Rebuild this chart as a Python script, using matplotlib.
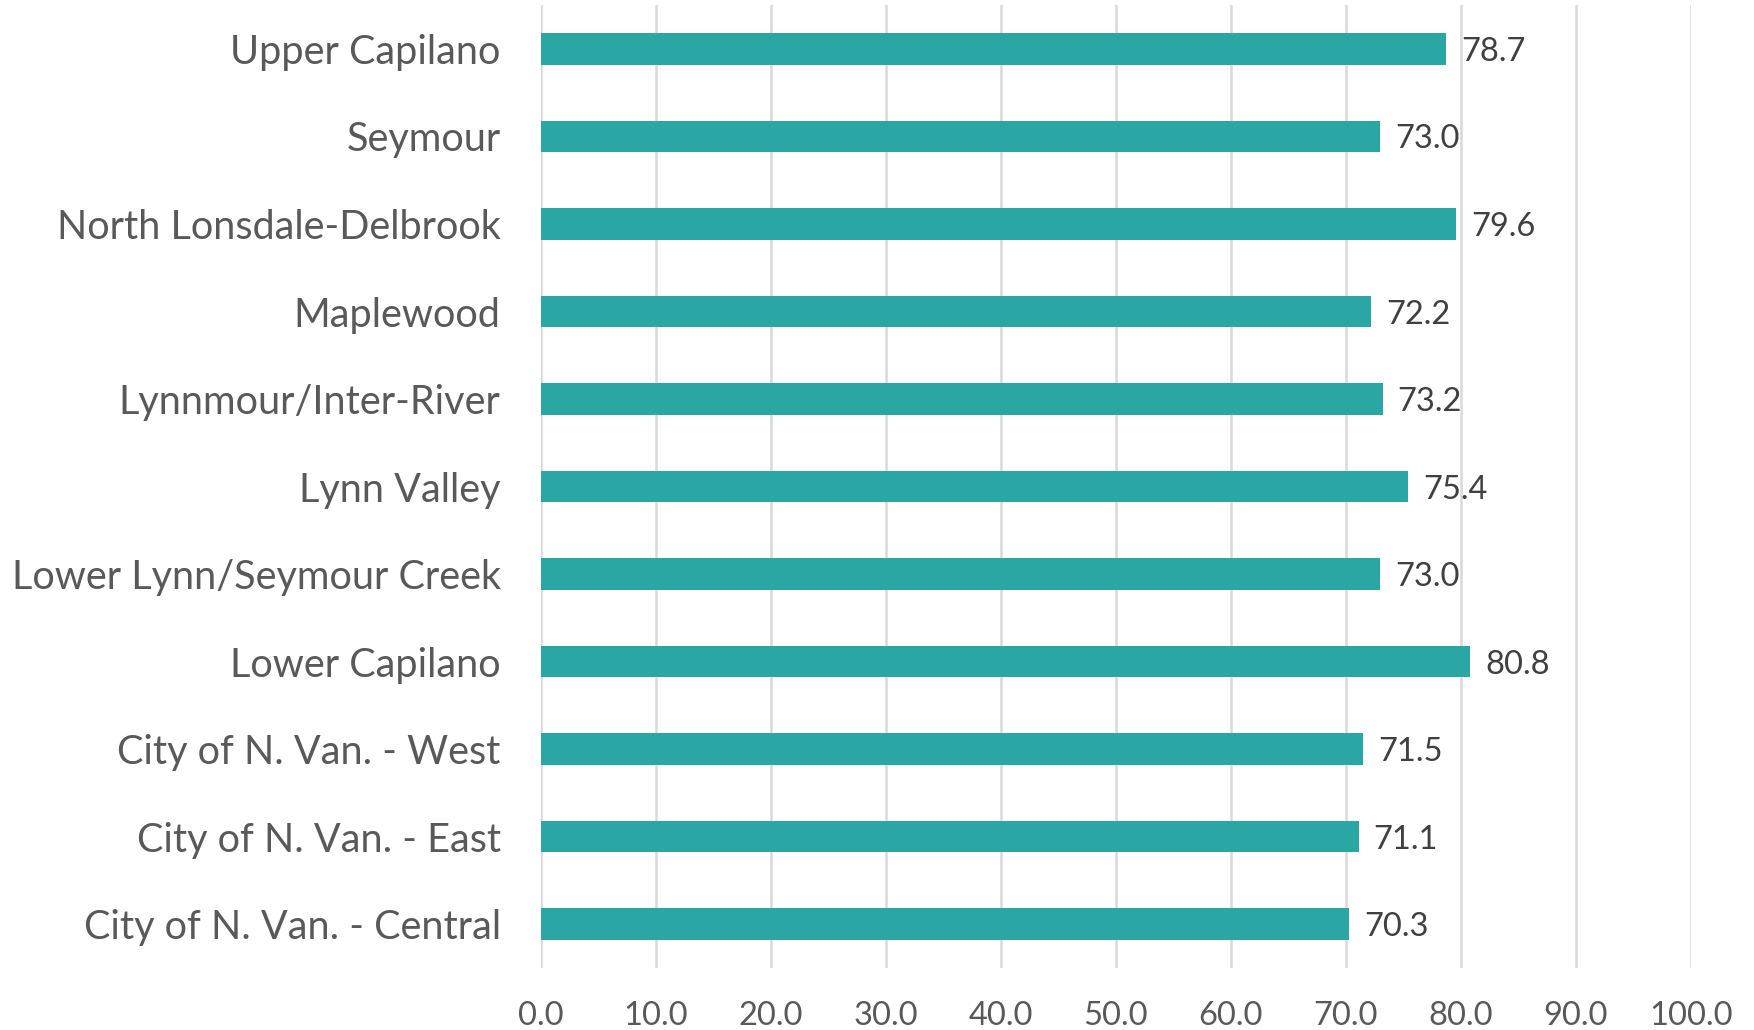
import numpy as np
import matplotlib.pyplot as plt

# ===== data (top to bottom as shown) =====
areas = ["Upper Capilano", "Seymour", "North Lonsdale-Delbrook", "Maplewood",
         "Lynnmour/Inter-River", "Lynn Valley", "Lower Lynn/Seymour Creek",
         "Lower Capilano", "City of N. Van. - West", "City of N. Van. - East",
         "City of N. Van. - Central"]
values = [78.7, 73.0, 79.6, 72.2, 73.2, 75.4, 73.0, 80.8, 71.5, 71.1, 70.3]
xticks = np.arange(0, 101, 10)

plt.rcParams['font.family'] = ['Lato', 'DejaVu Sans']

fig = plt.figure(figsize=(17.54, 10.30), dpi=100)
ax = fig.add_axes([0.3084, 0.0602, 0.6556, 0.9348])

y = np.arange(len(areas))[::-1]
ax.barh(y, values, height=0.36, color='#2aa6a4', zorder=3)

for yi, v in zip(y, values):
    ax.text(v + 1.3, yi, f"{v:.1f}", va='center_baseline', ha='left',
            fontsize=23.5, color='#404040')

ax.set_yticks(y)
ax.set_yticklabels(areas, fontsize=28.5, color='#595959')
ax.set_xticks(xticks)
ax.set_xticklabels([f"{t:.1f}" for t in xticks], fontsize=23.5, color='#595959')
ax.set_xlim(0, 100)
ax.set_ylim(-0.5, len(areas) - 0.5)

ax.xaxis.grid(True, color='#d9d9d9', linewidth=1.8, zorder=0)
ax.tick_params(axis='both', length=0)
ax.tick_params(axis='y', pad=29)
ax.tick_params(axis='x', pad=24)
for s in ax.spines.values():
    s.set_visible(False)

fig.savefig("out.png", dpi=100)
